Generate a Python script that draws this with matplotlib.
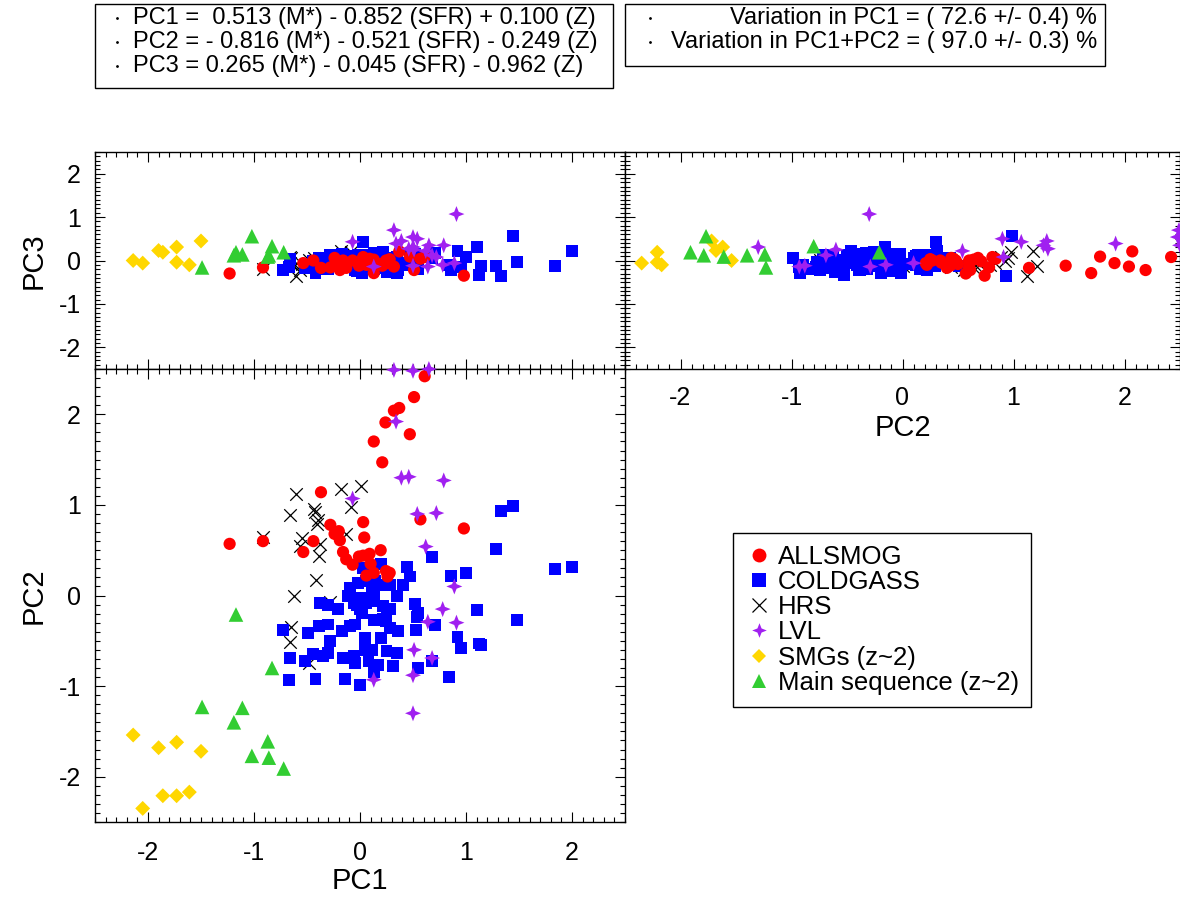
import matplotlib
matplotlib.use("Agg")
import matplotlib.pyplot as plt
from matplotlib.lines import Line2D
from matplotlib.patches import Rectangle
from matplotlib.path import Path
from matplotlib.ticker import MultipleLocator

plt.rcParams["font.family"] = ["Liberation Sans", "DejaVu Sans"]
plt.rcParams["axes.unicode_minus"] = False

# ---- data: (PC1, PC2, PC3) for each sample ----
allsmog_pc1 = [-1.23, -0.915, -0.368, 0.13, 0.24, 0.21, -0.28, -0.24, -0.20, -0.19,
               -0.44, -0.535, 0.03, 0.04, -0.16, -0.13, -0.07, -0.01, 0.03, 0.09,
               0.195, 0.10, 0.06, 0.13, 0.245, 0.26, 0.28, 0.61, 0.51, 0.32,
               0.37, 0.47, 0.57, 0.98]
allsmog_pc2 = [0.57, 0.60, 1.14, 1.70, 1.91, 1.47, 0.78, 0.68, 0.71, 0.61,
               0.60, 0.48, 0.81, 0.64, 0.48, 0.40, 0.34, 0.43, 0.44, 0.46,
               0.50, 0.35, 0.22, 0.25, 0.27, 0.21, 0.25, 2.42, 2.19, 2.04,
               2.07, 1.78, 0.84, 0.74]
allsmog_pc3 = [-0.30, -0.16, -0.17, -0.29, -0.06, -0.12, -0.16, 0.06, -0.02, -0.22,
               0.00, -0.06, 0.08, 0.02, 0.00, -0.17, 0.00, -0.12, 0.06, 0.04,
               -0.08, -0.05, -0.10, 0.02, 0.00, -0.06, 0.03, 0.08, -0.22, -0.14,
               0.21, 0.09, 0.04, -0.35]

coldgass_pc1 = [1.33, 1.44, 1.28, 1.84, 2.00, 0.68, 0.86, 1.00, 1.10, 1.48,
                0.92, 0.95, 1.12, 1.14, 0.84, 0.71, 0.54, 0.53, 0.55, 0.68,
                0.55, 0.52, 0.20, 0.03, 0.44, 0.47, 0.41, 0.35, 0.28, 0.14,
                0.17, -0.09, -0.02, 0.06, 0.11, -0.11, -0.03, 0.06, 0.13, -0.38,
                -0.30, -0.21, -0.03, 0.06, 0.00, 0.02, 0.22, 0.25, 0.28, 0.13,
                0.245, 0.28, 0.36, 0.20, 0.05, 0.05, 0.11, 0.25, 0.35, 0.31,
                0.08, 0.17, 0.13, 0.00, -0.14, -0.42, -0.06, -0.16, -0.05, -0.35,
                -0.30, -0.44, -0.52, -0.28, -0.49, -0.39, -0.30, -0.17, -0.09, -0.05,
                -0.73, -0.66, -0.67, 0.22, -0.06, 0.13]
coldgass_pc2 = [0.93, 0.99, 0.51, 0.29, 0.31, 0.43, 0.22, 0.25, -0.16, -0.27,
                -0.46, -0.58, -0.53, -0.55, -0.90, -0.33, -0.24, -0.38, -0.80, -0.72,
                -0.19, -0.09, 0.35, 0.30, 0.31, 0.21, 0.12, -0.01, 0.12, 0.16,
                0.12, 0.08, 0.14, 0.16, 0.10, -0.01, -0.03, -0.03, -0.02, -0.08,
                -0.11, -0.15, -0.10, -0.08, -0.15, -0.19, -0.12, -0.17, -0.15, -0.27,
                -0.28, -0.36, -0.39, -0.47, -0.47, -0.60, -0.60, -0.61, -0.63, -0.78,
                -0.72, -0.77, -0.85, -0.99, -0.92, -0.92, -0.67, -0.69, -0.74, -0.67,
                -0.63, -0.65, -0.72, -0.50, -0.41, -0.34, -0.32, -0.39, -0.34, -0.32,
                -0.38, -0.69, -0.93, -0.26, -0.08, -0.06]
coldgass_pc3 = [-0.36, 0.57, -0.12, -0.12, 0.22, 0.05, -0.23, 0.09, 0.31, -0.04,
                0.22, -0.15, -0.33, -0.12, -0.10, 0.18, 0.10, -0.05, -0.20, 0.08,
                -0.10, 0.15, 0.05, 0.43, -0.05, 0.12, -0.10, -0.30, 0.02, -0.15,
                0.10, -0.08, 0.12, -0.20, 0.05, -0.12, 0.08, -0.05, 0.15, -0.20,
                0.05, -0.10, -0.25, 0.00, 0.10, -0.30, -0.18, 0.06, -0.08, 0.18,
                -0.12, 0.04, -0.22, 0.10, -0.06, -0.18, 0.02, -0.26, 0.08, -0.15,
                0.12, -0.04, -0.20, 0.05, -0.12, -0.30, 0.10, -0.06, -0.22, 0.06,
                -0.14, -0.02, -0.18, 0.12, -0.10, 0.05, -0.20, 0.14, -0.08, 0.02,
                -0.22, 0.04, -0.14, 0.20, -0.16, -0.02]

hrs_pc1 = [-0.60, -0.18, 0.01, -0.66, -0.43, -0.42, -0.40, -0.41, -0.085, -0.915,
           -0.55, -0.57, -0.38, -0.39, -0.13, -0.415, -0.625, -0.28, -0.65, -0.66,
           -0.48]
hrs_pc2 = [1.12, 1.18, 1.21, 0.89, 0.95, 0.92, 0.83, 0.79, 0.98, 0.65,
           0.64, 0.55, 0.57, 0.44, 0.68, 0.17, 0.00, -0.07, -0.35, -0.51,
           -0.74]
hrs_pc3 = [-0.35, 0.23, -0.12, 0.09, 0.05, 0.00, -0.05, -0.10, 0.19, -0.19,
           -0.08, -0.23, -0.10, -0.15, -0.05, -0.02, -0.12, 0.00, 0.05, -0.05,
           0.02]

lvl_pc1 = [0.32, 0.50, 0.65, 0.34, 0.39, 0.46, 0.79, -0.07, 0.54, 0.72,
           0.62, 0.89, 0.78, 0.64, 0.91, 0.51, 0.68, 0.50, 0.13, 0.50]
lvl_pc2 = [2.49, 2.48, 2.50, 1.92, 1.30, 1.31, 1.27, 1.07, 0.90, 0.91,
           0.54, 0.10, -0.15, -0.29, -0.30, -0.60, -0.69, -0.88, -0.93, -1.30]
lvl_pc3 = [0.70, 0.54, 0.35, 0.39, 0.45, 0.27, 0.35, 0.43, 0.50, 0.08,
           0.22, -0.06, -0.10, -0.14, 1.07, 0.25, 0.12, -0.12, -0.14, 0.31]

smg_pc1 = [-2.14, -1.90, -1.73, -1.50, -1.86, -1.73, -1.61, -2.05]
smg_pc2 = [-1.54, -1.68, -1.62, -1.72, -2.21, -2.21, -2.17, -2.35]
smg_pc3 = [0.00, 0.23, 0.31, 0.45, 0.19, -0.04, -0.10, -0.06]

ms_pc1 = [-1.17, -0.83, -1.49, -1.11, -1.19, -0.87, -1.02, -0.86, -0.72]
ms_pc2 = [-0.21, -0.80, -1.23, -1.24, -1.40, -1.61, -1.77, -1.79, -1.91]
ms_pc3 = [0.19, 0.33, -0.16, 0.14, 0.12, 0.09, 0.56, 0.12, 0.19]

labels = ["ALLSMOG", "COLDGASS", "HRS", "LVL", "SMGs (z~2)", "Main sequence (z~2)"]

pca_lines = ["PC1 =  0.513 (M*) - 0.852 (SFR) + 0.100 (Z)",
             "PC2 = - 0.816 (M*) - 0.521 (SFR) - 0.249 (Z)",
             "PC3 = 0.265 (M*) - 0.045 (SFR) - 0.962 (Z)"]
var_lines = ["Variation in PC1 = ( 72.6 +/- 0.4) %",
             "Variation in PC1+PC2 = ( 97.0 +/- 0.3) %"]

# ---- styles ----
star4 = Path.unit_regular_star(4, 0.4)
groups = [
    # pc1, pc2, pc3, marker, colour, marker size (pt), legend size (pt)
    (hrs_pc1, hrs_pc2, hrs_pc3, "x", "black", 9.0, 9.5),
    (coldgass_pc1, coldgass_pc2, coldgass_pc3, "s", "#0000FF", 8.6, 9.6),
    (allsmog_pc1, allsmog_pc2, allsmog_pc3, "o", "#FF0000", 8.8, 10.0),
    (lvl_pc1, lvl_pc2, lvl_pc3, star4, "#A020F0", 11.5, 10.5),
    (smg_pc1, smg_pc2, smg_pc3, "D", "#FFD700", 7.6, 6.8),
    (ms_pc1, ms_pc2, ms_pc3, "^", "#32CD32", 10.5, 9.5),
]
legend_order = [2, 1, 0, 3, 4, 5]

W, H = 1180, 901
fig = plt.figure(figsize=(W / 100, H / 100), dpi=100)


def box(x0, y0, x1, y1):
    return [x0 / W, 1 - y1 / H, (x1 - x0) / W, (y1 - y0) / H]


ax_tl = fig.add_axes(box(95, 152, 625, 369))
ax_tr = fig.add_axes(box(625, 152, 1180, 369))
ax_b = fig.add_axes(box(95, 369, 625, 822))

panels = [(ax_tl, 0, 2), (ax_tr, 1, 2), (ax_b, 0, 1)]
for ax, ix, iy in panels:
    for g in groups:
        pcs = g[:3]
        if g[3] == "x":
            ax.scatter(pcs[ix], pcs[iy], s=g[5] ** 2, marker="x", c=g[4],
                       linewidths=0.9, clip_on=False, zorder=3)
        else:
            ax.scatter(pcs[ix], pcs[iy], s=g[5] ** 2, marker=g[3], c=g[4],
                       edgecolors="none", clip_on=False, zorder=3)
    ax.set_xlim(-2.5, 2.5)
    ax.set_ylim(-2.5, 2.5)
    ax.xaxis.set_major_locator(MultipleLocator(1))
    ax.yaxis.set_major_locator(MultipleLocator(1))
    ax.xaxis.set_minor_locator(MultipleLocator(0.1))
    ax.yaxis.set_minor_locator(MultipleLocator(0.1))
    ax.tick_params(which="both", direction="in", top=True, right=True,
                   width=0.8, labelsize=18)
    ax.tick_params(which="major", length=7)
    ax.tick_params(which="minor", length=3.5)
    ax.tick_params(axis="y", pad=10)
    for sp in ax.spines.values():
        sp.set_linewidth(1.0)

ax_tl.tick_params(labelbottom=False)
ax_tr.tick_params(labelleft=False)
ax_tr.tick_params(axis="x", pad=12)
ax_b.tick_params(axis="x", pad=14)

ax_tl.set_ylabel("PC3", fontsize=21, labelpad=8)
ax_b.set_ylabel("PC2", fontsize=21, labelpad=8)
ax_b.set_xlabel("PC1", fontsize=21, labelpad=1)
ax_tr.set_xlabel("PC2", fontsize=21, labelpad=3)

# ---- legend ----
handles = []
for i in legend_order:
    g = groups[i]
    handles.append(Line2D([], [], ls="none", marker=g[3], color=g[4],
                          markersize=g[6], markeredgewidth=0.9 if g[3] == "x" else 0))
leg = fig.legend(handles, labels, loc="upper left",
                 bbox_to_anchor=(733 / W, 1 - 533 / H), borderaxespad=0,
                 fontsize=18.5, frameon=True, fancybox=False, framealpha=1,
                 edgecolor="black", handlelength=1.1, handletextpad=0.2,
                 borderpad=0.45, labelspacing=0.05, numpoints=1)
leg.get_frame().set_linewidth(1.0)

# ---- text boxes on top ----
fig.add_artist(Rectangle((95 / W, 1 - 88 / H), 518 / W, 84 / H,
                         transform=fig.transFigure, fill=False, ec="black", lw=1))
fig.add_artist(Rectangle((625 / W, 1 - 66 / H), 480 / W, 62 / H,
                         transform=fig.transFigure, fill=False, ec="black", lw=1))

for k, line in enumerate(pca_lines):
    yc = 1 - (18 + 24 * k) / H
    fig.text(133 / W, yc, line, fontsize=17, ha="left", va="center")
    fig.add_artist(Line2D([117 / W], [yc], marker=".", ms=2, color="black",
                          transform=fig.transFigure))
for k, line in enumerate(var_lines):
    yc = 1 - (18 + 24 * k) / H
    fig.text(1097 / W, yc, line, fontsize=17, ha="right", va="center")
    fig.add_artist(Line2D([650 / W], [yc], marker=".", ms=2, color="black",
                          transform=fig.transFigure))

fig.savefig("out.png", dpi=100)
